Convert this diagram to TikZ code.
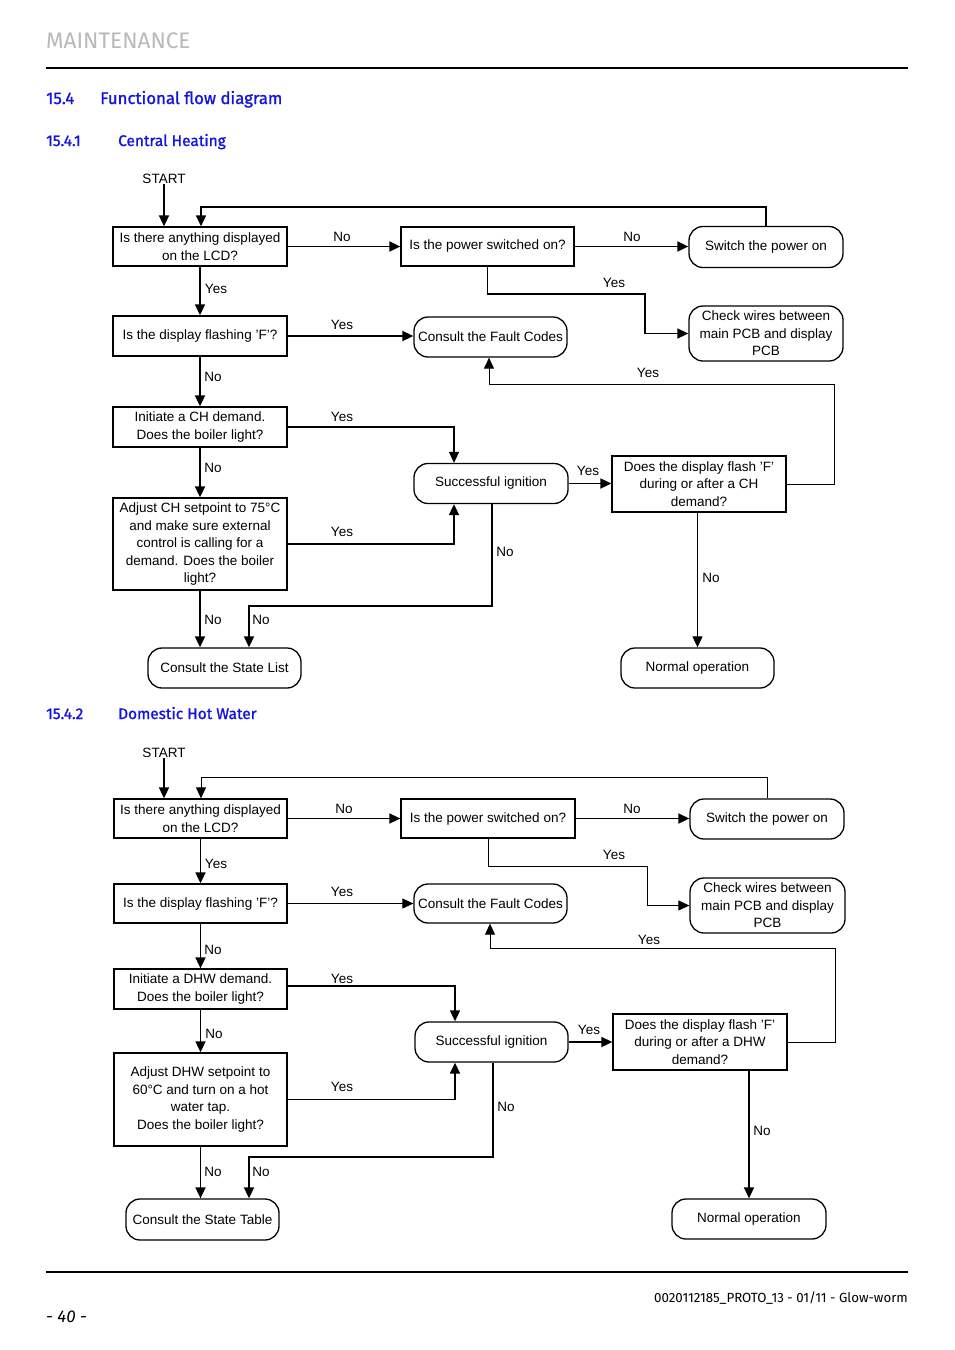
\documentclass[tikz,border=0pt]{standalone}
\usepackage{fontspec}
\setmainfont{Liberation Sans}
\newfontfamily\hfont{Fira Sans}
\newfontfamily\hmed{Fira Sans}[FakeBold=1.2]
\usetikzlibrary{arrows.meta,calc}
\definecolor{hblue}{RGB}{20,20,225}
\definecolor{hgray}{RGB}{185,185,185}
\newcommand{\fc}{\fontsize{13.5}{17.5}\selectfont}
\tikzset{
  qbox/.style={draw, line width=1.3pt, align=center, inner sep=1pt, font=\fc},
  term/.style={draw, line width=1.3pt, rounded corners=14pt, align=center, inner sep=1pt, font=\fc},
  arr/.style={line width=1.7pt, -{Triangle[length=11pt,width=10pt]}},
  tarr/.style={line width=1pt, -{Triangle[length=11pt,width=10pt]}},
  lab/.style={font=\fc, inner sep=0pt},
  head/.style={font=\hmed\fontsize{16.8}{18}\selectfont, text=hblue, anchor=base west, inner sep=0pt},
  subhead/.style={font=\hmed\fontsize{15.4}{17}\selectfont, text=hblue, anchor=base west, inner sep=0pt},
}
\begin{document}
\begin{tikzpicture}[x=1pt,y=-1pt]
\useasboundingbox[fill=white] (0,0) rectangle (954,1350);

% header
\node[anchor=base west, inner sep=0pt, text=hgray, font=\hfont\fontsize{22.5}{24}\selectfont] (mt) at (46,48) {MAINTENANCE};
\draw[line width=2pt] (46,68) -- (908,68);
\node[head] (h1n) at (46,104) {15.4};
\node[head] (h1t) at (100,104) {Functional flow diagram};
\node[subhead] (h2n) at (46,146) {15.4.1};
\node[subhead] (h2t) at (118,146) {Central Heating};
\node[subhead] (h3n) at (46,719) {15.4.2};
\node[subhead] (h3t) at (118,719) {Domestic Hot Water};

% footer
\draw[line width=2pt] (46,1272) -- (908,1272);
\node[anchor=base east, inner sep=0pt, font=\hfont\fontsize{13.3}{15}\selectfont] (ft) at (908,1302) {0020112185\_PROTO\_13 - 01/11 - Glow-worm};
\node[anchor=base west, inner sep=0pt, font=\hfont\itshape\fontsize{17}{18}\selectfont] (pg) at (46,1322) {- 40 -};

% ================= Central heating =================
\node[lab] (S) at (164,179) {START};
\node[qbox, minimum width=174pt, minimum height=39pt] (A) at (200,246.5) {Is there anything displayed\\on the LCD?};
\node[qbox, minimum width=173pt, minimum height=39pt] (B) at (487.5,246.5) {Is the power switched on?};
\node[term, minimum width=154pt, minimum height=41pt] (C) at (766,247) {Switch the power on};
\node[term, minimum width=154pt, minimum height=55pt] (D) at (766,333.5) {Check wires between\\main PCB and display\\PCB};
\node[qbox, minimum width=174pt, minimum height=40pt] (E) at (200,336) {Is the display flashing 'F'?};
\node[term, minimum width=153pt, minimum height=40pt] (F) at (490.5,337) {Consult the Fault Codes};
\node[qbox, minimum width=174pt, minimum height=40pt] (H) at (200,427) {Initiate a CH demand.\\Does the boiler light?};
\node[term, minimum width=154pt, minimum height=40pt] (I) at (491,483.5) {Successful ignition};
\node[qbox, minimum width=174pt, minimum height=56pt] (G) at (699,484) {Does the display flash 'F'\\during or after a CH\\demand?};
\node[qbox, minimum width=174pt, minimum height=92pt] (J) at (200,544) {Adjust CH setpoint to 75°C\\and make sure external\\control is calling for a\\demand. Does the boiler\\light?};
\node[term, minimum width=153pt, minimum height=40pt] (K) at (224.5,668) {Consult the State List};
\node[term, minimum width=153pt, minimum height=40pt] (N) at (697.5,668) {Normal operation};

\draw[arr] (S.south) -- (S.south |- A.north);
\draw[arr] (C.north) -- (C.north |- 0,207) -| ([xshift=1pt]A.north);
\draw[arr] (A.east) -- (A.east -| B.west);
\draw[arr] (B.east) -- (B.east -| C.west);
\draw[arr] (B.south) |- (645,294) |- (D.west);
\draw[arr] (A.south) -- (E.north);
\draw[arr] (E.east) -- (E.east -| F.west);
\draw[tarr] (G.east) -| (834,384) -| ([xshift=-1.5pt]F.south);
\draw[arr] (E.south) -- (H.north);
\draw[arr] (H.east) -| ([xshift=-37pt]I.north);
\draw[arr] (I.east) -- (I.east -| G.west);
\draw[tarr] (G.south -| N.north) -- (N.north);
\draw[arr] (H.south) -- (J.north);
\draw[arr] (J.east) -| ([xshift=-37pt]I.south);
\coordinate (k1) at ([xshift=24.5pt]K.north);
\draw[arr] ([xshift=1pt]I.south) |- (k1 |- 0,606) -- (k1);
\draw[arr] (J.south) -- (J.south |- K.north);

\node[lab] (l1) at (342,237) {No};
\node[lab] (l2) at (632,237) {No};
\node[lab] (l3) at (614,283) {Yes};
\node[lab] (l4) at (216,289) {Yes};
\node[lab] (l5) at (342,325) {Yes};
\node[lab] (l6) at (648,373) {Yes};
\node[lab] (l7) at (213,377) {No};
\node[lab] (l8) at (342,417) {Yes};
\node[lab] (l9) at (588,471) {Yes};
\node[lab] (l10) at (213,468) {No};
\node[lab] (l11) at (342,532) {Yes};
\node[lab] (l12) at (505,552) {No};
\node[lab] (l13) at (711,578) {No};
\node[lab] (l14) at (213,620) {No};
\node[lab] (l15) at (261,620) {No};

% ================= Domestic hot water =================
\node[lab] (S2) at (164,753) {START};
\node[qbox, minimum width=173pt, minimum height=39pt] (A2) at (200.5,818.5) {Is there anything displayed\\on the LCD?};
\node[qbox, minimum width=174pt, minimum height=39pt] (B2) at (488,818.5) {Is the power switched on?};
\node[term, minimum width=154pt, minimum height=40pt] (C2) at (767,819) {Switch the power on};
\node[term, minimum width=155pt, minimum height=55pt] (D2) at (767.5,905.5) {Check wires between\\main PCB and display\\PCB};
\node[qbox, minimum width=173pt, minimum height=39pt] (E2) at (200.5,903.5) {Is the display flashing 'F'?};
\node[term, minimum width=153pt, minimum height=39pt] (F2) at (490.5,903.5) {Consult the Fault Codes};
\node[qbox, minimum width=173pt, minimum height=40pt] (H2) at (200.5,989) {Initiate a DHW demand.\\Does the boiler light?};
\node[term, minimum width=153pt, minimum height=40pt] (I2) at (491.5,1042) {Successful ignition};
\node[qbox, minimum width=174pt, minimum height=56pt] (G2) at (700,1042) {Does the display flash 'F'\\during or after a DHW\\demand?};
\node[qbox, minimum width=173pt, minimum height=93pt] (J2) at (200.5,1099.5) {Adjust DHW setpoint to\\60°C and turn on a hot\\water tap.\\Does the boiler light?};
\node[term, minimum width=153pt, minimum height=41pt] (K2) at (202.5,1219.5) {Consult the State Table};
\node[term, minimum width=154pt, minimum height=40pt] (N2) at (749,1219) {Normal operation};

\draw[arr] (S2.south) -- (S2.south |- A2.north);
\draw[tarr] (C2.north) -- (C2.north |- 0,777) -| ([xshift=0.5pt]A2.north);
\draw[arr] (A2.east) -- (A2.east -| B2.west);
\draw[arr] (B2.east) -- (B2.east -| C2.west);
\draw[tarr] (B2.south) |- (647,866) |- (D2.west);
\draw[arr] (A2.south) -- (E2.north);
\draw[tarr] (E2.east) -- (E2.east -| F2.west);
\draw[tarr] (G2.east) -| (835,948) -| ([xshift=-0.5pt]F2.south);
\draw[arr] (E2.south) -- (H2.north);
\draw[arr] ([yshift=3pt]H2.east) -| ([xshift=-36.5pt]I2.north);
\draw[arr] (I2.east) -- (I2.east -| G2.west);
\draw[arr] (G2.south -| N2.north) -- (N2.north);
\draw[arr] (H2.south) -- (J2.north);
\draw[arr] (J2.east) -| ([xshift=-36.5pt]I2.south);
\coordinate (k2) at ([xshift=46.5pt]K2.north);
\draw[arr] ([xshift=1.5pt]I2.south) |- (k2 |- 0,1157) -- (k2);
\draw[arr] (J2.south) -- (J2.south |- K2.north);

\node[lab] (m1) at (344,809) {No};
\node[lab] (m2) at (632,809) {No};
\node[lab] (m3) at (614,855) {Yes};
\node[lab] (m4) at (216,864) {Yes};
\node[lab] (m5) at (342,892) {Yes};
\node[lab] (m6) at (649,940) {Yes};
\node[lab] (m7) at (213,950) {No};
\node[lab] (m8) at (342,979) {Yes};
\node[lab] (m9) at (589,1030) {Yes};
\node[lab] (m10) at (214,1034) {No};
\node[lab] (m11) at (342,1087) {Yes};
\node[lab] (m12) at (506,1107) {No};
\node[lab] (m13) at (762,1131) {No};
\node[lab] (m14) at (213,1172) {No};
\node[lab] (m15) at (261,1172) {No};
\end{tikzpicture}
\end{document}
